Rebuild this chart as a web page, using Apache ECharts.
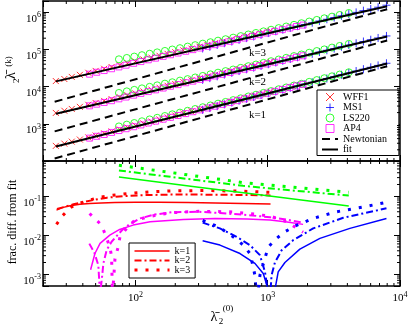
<!DOCTYPE html>
<html>
<head>
<meta charset="utf-8">
<script src="https://cdn.jsdelivr.net/npm/echarts@6/dist/echarts.min.js"></script>
<style>
html, body { margin: 0; padding: 0; background: #fff; }
#chart { width: 409px; height: 326px; }
</style>
</head>
<body>
<div id="chart"></div>
<script>
// lambda_2^(0) of the stellar models, one array per EOS
const xWFF1 = [25, 29, 33, 38, 44, 50, 58, 66, 76, 87, 100, 115, 132, 152, 175, 200, 230, 265, 305, 350, 400, 460, 530, 610, 700, 800, 920, 1050];
const xAP4 = [45, 51, 58, 66, 75, 85, 97, 110, 125, 142, 162, 184, 210, 240, 272, 310, 353, 400, 455, 520, 590, 670, 765, 870, 990, 1130, 1290, 1470, 1650, 1850];
const xLS220 = [75, 86, 98, 112, 128, 146, 167, 190, 217, 248, 283, 323, 369, 421, 480, 548, 625, 714, 815, 930, 1060, 1210, 1380, 1580, 1800, 2060, 2350, 2680, 3060, 3500, 4100];
const xMS1 = [322, 365, 415, 470, 535, 607, 690, 783, 890, 1010, 1150, 1300, 1480, 1680, 1910, 2170, 2460, 2800, 3180, 3610, 4100, 4660, 5290, 6010, 6830, 7900];

// lambda_2^(k) for k = 1, 2, 3
const wff1K1 = [255, 293, 331, 377, 431, 483, 552, 621, 706, 796, 902, 1020, 1150, 1310, 1480, 1670, 1890, 2140, 2430, 2740, 3090, 3490, 3960, 4490, 5080, 5720, 6470, 7260];
const wff1K2 = [1960, 2240, 2510, 2850, 3240, 3630, 4120, 4610, 5210, 5850, 6580, 7400, 8300, 9330, 10500, 11700, 13200, 14800, 16600, 18700, 20800, 23400, 26200, 29400, 33000, 36900, 41300, 46100];
const wff1K3 = [14100, 16000, 18200, 20700, 23500, 26400, 30100, 33600, 37800, 42400, 47500, 53600, 60000, 67300, 75700, 84100, 94200, 105000, 118000, 132000, 147000, 164000, 184000, 206000, 230000, 255000, 285000, 316000];

const ap4K1 = [412, 461, 516, 586, 659, 738, 834, 933, 1050, 1180, 1330, 1490, 1670, 1880, 2110, 2370, 2660, 2970, 3330, 3750, 4200, 4700, 5280, 5920, 6640, 7460, 8400, 9400, 10400, 11500];
const ap4K2 = [3040, 3370, 3750, 4180, 4690, 5240, 5890, 6560, 7350, 8170, 9140, 10200, 11300, 12700, 14000, 15600, 17400, 19300, 21400, 23900, 26600, 29400, 32800, 36600, 40600, 45200, 50400, 56000, 61400, 67300];
const ap4K3 = [21600, 24300, 27000, 30200, 33800, 37700, 42300, 47100, 52500, 58200, 64900, 71800, 79800, 88900, 98600, 109000, 121000, 134000, 148000, 165000, 183000, 202000, 225000, 249000, 275000, 306000, 340000, 376000, 412000, 451000];

const ls220K1 = [851, 951, 1050, 1170, 1310, 1450, 1620, 1800, 2000, 2240, 2500, 2790, 3110, 3480, 3870, 4340, 4840, 5430, 6050, 6780, 7570, 8490, 9480, 10700, 11900, 13400, 15000, 16800, 18900, 21100, 24300];
const ls220K2 = [6760, 7450, 8170, 8970, 9860, 10800, 12000, 13100, 14500, 15900, 17600, 19400, 21400, 23700, 26100, 28800, 31900, 35400, 39300, 43500, 48200, 53500, 59300, 66100, 73100, 81500, 90400, 100000, 112000, 124000, 141000];
const ls220K3 = [54200, 58900, 64100, 70000, 76400, 83200, 91000, 99300, 108000, 119000, 130000, 143000, 156000, 172000, 188000, 207000, 228000, 252000, 277000, 306000, 338000, 374000, 413000, 458000, 506000, 561000, 621000, 686000, 760000, 843000, 953000];

const ms1K1 = [2370, 2650, 2970, 3330, 3730, 4190, 4700, 5260, 5890, 6590, 7410, 8260, 9290, 10400, 11700, 13100, 14700, 16500, 18500, 20800, 23300, 26200, 29400, 33000, 37100, 42400];
const ms1K2 = [15200, 16900, 18900, 21100, 23500, 26200, 29200, 32400, 36000, 40000, 44600, 49400, 55100, 61400, 68400, 76000, 84700, 94600, 105000, 118000, 131000, 146000, 163000, 182000, 203000, 230000];
const ms1K3 = [106000, 118000, 132000, 147000, 163000, 181000, 201000, 223000, 247000, 275000, 307000, 340000, 378000, 421000, 469000, 521000, 579000, 646000, 718000, 800000, 887000, 989000, 1100000, 1220000, 1360000, 1540000];

// fit and Newtonian lines (end points)
const fitX = [25, 8000];
const fitK1 = [244, 41700];
const fitK2 = [1870, 222000];
const fitK3 = [13800, 1450000];
const newtX = [24.5, 8000];
const newtK1 = [117, 35300];
const newtK2 = [625, 173000];
const newtK3 = [3910, 1205000];

// fractional difference from fit, [lambda_2^(0), frac. diff.]
const fdWFF1K1 = [[25.3, 0.044], [28, 0.051], [32, 0.057], [38, 0.062], [45, 0.065], [55, 0.067], [70, 0.069], [100, 0.070], [150, 0.070], [250, 0.069], [400, 0.067], [650, 0.065], [1050, 0.063]];
const fdWFF1K2 = [[25.5, 0.047], [30, 0.055], [34, 0.062], [40, 0.070], [48, 0.080], [61, 0.092], [80, 0.100], [108, 0.106], [180, 0.110], [330, 0.110], [600, 0.108], [1050, 0.105]];
const fdWFF1K3 = [[25.3, 0.019], [28.2, 0.032], [32.4, 0.052], [38, 0.066], [45, 0.080], [54, 0.094], [66, 0.105], [90, 0.118], [130, 0.130], [200, 0.138], [350, 0.140], [600, 0.135], [1050, 0.126]];

const fdAP4K1 = [[45.8, 0.0013], [49.4, 0.0034], [54, 0.0062], [64, 0.0101], [76, 0.0141], [96, 0.0182], [129, 0.0222], [230, 0.0255], [400, 0.027], [700, 0.026], [1040, 0.0245], [1400, 0.022], [1850, 0.019]];
const fdAP4K2 = [[44.8, 0.0061], [49, 0.0035], [52.4, 0.0017], [54, 0.0003], [56, 0.0009], [57.2, 0.0019], [60.6, 0.0042], [66, 0.0068], [72, 0.0095], [80, 0.014], [90, 0.019], [108, 0.027], [140, 0.034], [190, 0.039], [300, 0.040], [435, 0.037], [700, 0.033], [1040, 0.029], [1400, 0.025], [1850, 0.021]];
const fdAP4K3 = [[45, 0.036], [47.5, 0.030], [51, 0.024], [55.6, 0.018], [59.9, 0.0092], [64.1, 0.005], [66, 0.0028], [67, 0.0003], [68.5, 0.0008], [70, 0.0025], [74, 0.005], [76.4, 0.0092], [85.8, 0.015], [99, 0.0245], [144, 0.033], [190, 0.038], [300, 0.041], [500, 0.040], [800, 0.035], [1070, 0.030], [1400, 0.022], [1750, 0.0135], [1850, 0.012]];

const fdLS220K1 = [[75, 0.31], [300, 0.171], [1000, 0.103], [4100, 0.056]];
const fdLS220K2 = [[75, 0.457], [150, 0.342], [300, 0.256], [650, 0.185], [1200, 0.152], [2200, 0.126], [4100, 0.104]];
const fdLS220K3 = [[75, 0.62], [150, 0.447], [300, 0.323], [650, 0.224], [1200, 0.185], [2200, 0.153], [4100, 0.126]];

const fdMS1K1 = [[322, 0.0072], [435, 0.0056], [617, 0.0034], [800, 0.0019], [925, 0.00104], [1009, 0.0004], [1060, 0.0001], [1090, 0.0001], [1133, 0.0004], [1200, 0.00115], [1349, 0.002], [1750, 0.0044], [2480, 0.0083], [4180, 0.015], [7900, 0.027]];
const fdMS1K2 = [[322, 0.021], [435, 0.015], [582, 0.0091], [733, 0.0056], [873, 0.0031], [953, 0.00115], [1000, 0.0004], [1020, 0.0001], [1045, 0.0003], [1069, 0.00094], [1133, 0.002], [1273, 0.0041], [1560, 0.0075], [2206, 0.015], [3724, 0.028], [7900, 0.049]];
const fdMS1K3 = [[322, 0.024], [423, 0.0165], [548, 0.0091], [653, 0.0056], [733, 0.0034], [769, 0.0018], [800, 0.00094], [828, 0.0002], [850, 0.0004], [873, 0.00094], [1009, 0.005], [1167, 0.0083], [1349, 0.0123], [1652, 0.018], [2206, 0.027], [3316, 0.040], [5594, 0.055], [7900, 0.070]];

const SERIF = '"Liberation Serif", "Times New Roman", serif';
const RED = '#ff0000', BLUE = '#0000ff', GREEN = '#00ff00', MAGENTA = '#ff00ff';

// minor tick positions (2..9 x 10^n) inside each axis range
function minorTicks(decades, lo, hi) {
  const out = [];
  decades.forEach(d => {
    for (let m = 2; m <= 9; m++) {
      const v = m * d;
      if (v > lo * 1.0001 && v < hi * 0.9999) out.push(v);
    }
  });
  return out;
}
const xMinor = minorTicks([10, 100, 1000], 20, 1e4);
const yTopMinor = minorTicks([100, 1e3, 1e4, 1e5, 1e6], 100, 2e6);
const yBotMinor = minorTicks([1e-4, 1e-3, 1e-2, 0.1], 5e-4, 0.8);

function powLabel(v) {
  const l = Math.log10(v);
  const e = Math.round(l);
  if (Math.abs(l - e) > 1e-6) return '';
  return '{b|10}{s|' + e + '}';
}
const richTick = {
  b: { fontFamily: SERIF, fontSize: 11, color: '#000', lineHeight: 12, padding: [7, 0, 0, 0], verticalAlign: 'top' },
  s: { fontFamily: SERIF, fontSize: 8, color: '#000', lineHeight: 8, padding: [5, 0, 0, 0], verticalAlign: 'top' }
};

const frameLine = { color: '#000', width: 1.5 };
function axis(grid, pos, min, max, label) {
  return {
    type: 'log', gridIndex: grid, position: pos, min: min, max: max,
    axisLine: { show: true, onZero: false, lineStyle: frameLine },
    axisTick: { show: true, inside: true, length: 6, lineStyle: { color: '#000', width: 1 } },
    splitLine: { show: false },
    minorTick: { show: false },
    axisLabel: label ? Object.assign({ show: true, rich: richTick }, label) : { show: false }
  };
}

const xAxis = [
  axis(0, 'bottom', 20, 1e4, null),
  axis(0, 'top', 20, 1e4, null),
  axis(1, 'bottom', 20, 1e4, { formatter: powLabel, margin: 0 }),
  axis(1, 'top', 20, 1e4, null)
];
const yAxis = [
  axis(0, 'left', 100, 2e6, { formatter: v => (v < 150 ? '' : powLabel(v)), margin: 2 }),
  axis(0, 'right', 100, 2e6, null),
  axis(1, 'left', 5e-4, 0.8, { formatter: powLabel, margin: 2 }),
  axis(1, 'right', 5e-4, 0.8, null)
];

function minorSeries(grid, dir, values, other) {
  return {
    type: 'custom', xAxisIndex: grid * 2, yAxisIndex: grid * 2, silent: true, z: 10, clip: false,
    data: values.map(v => (dir === 'x' ? [v, other] : [other, v])),
    renderItem: function (params, api) {
      const cs = params.coordSys;
      const p = api.coord([api.value(0), api.value(1)]);
      const st = { stroke: '#000', lineWidth: 1 };
      if (dir === 'x') {
        return { type: 'group', children: [
          { type: 'line', shape: { x1: p[0], y1: cs.y + cs.height, x2: p[0], y2: cs.y + cs.height - 3 }, style: st },
          { type: 'line', shape: { x1: p[0], y1: cs.y, x2: p[0], y2: cs.y + 3 }, style: st }
        ] };
      }
      return { type: 'group', children: [
        { type: 'line', shape: { x1: cs.x, y1: p[1], x2: cs.x + 3, y2: p[1] }, style: st },
        { type: 'line', shape: { x1: cs.x + cs.width, y1: p[1], x2: cs.x + cs.width - 3, y2: p[1] }, style: st }
      ] };
    }
  };
}

const markers = {
  WFF1: { symbol: 'path://M0,0L10,10M10,0L0,10', size: 6, color: RED },
  MS1: { symbol: 'path://M5,0L5,10M0,5L10,5', size: 8, color: BLUE },
  LS220: { symbol: 'circle', size: 7, color: GREEN },
  AP4: { symbol: 'path://M0,0L10,0L10,10L0,10Z', size: 6, color: MAGENTA }
};
function scatter(name, xs, ys) {
  const m = markers[name];
  return {
    type: 'scatter', name: name, xAxisIndex: 0, yAxisIndex: 0, silent: true, z: 2,
    symbol: m.symbol, symbolSize: m.size, symbolKeepAspect: true,
    itemStyle: { color: 'transparent', borderColor: m.color, borderWidth: 1 },
    data: xs.map((x, i) => [x, ys[i]])
  };
}
// line series: item colour kept transparent so the legend shows no marker
const noMark = { color: 'transparent', borderColor: 'transparent', borderWidth: 0 };
function topLine(name, xs, ys, dashed) {
  return {
    type: 'line', name: name, xAxisIndex: 0, yAxisIndex: 0, silent: true, z: 4,
    symbol: 'none', showSymbol: false,
    lineStyle: { color: '#000', width: 2, type: dashed ? [8, 5] : 'solid' },
    itemStyle: noMark,
    data: xs.map((x, i) => [x, ys[i]])
  };
}
const kStyle = {
  'k=1': { width: 1.5, type: 'solid' },
  'k=2': { width: 2, type: [7, 3, 2, 3] },
  'k=3': { width: 3, type: [3, 8], cap: 'butt' }
};
function fdLine(name, data, color) {
  return {
    type: 'line', name: name, xAxisIndex: 2, yAxisIndex: 2, silent: true, z: 3,
    symbol: 'none', showSymbol: false, clip: true,
    lineStyle: Object.assign({ color: color }, kStyle[name]),
    itemStyle: noMark,
    data: data
  };
}

const series = [
  scatter('WFF1', xWFF1, wff1K1), scatter('WFF1', xWFF1, wff1K2), scatter('WFF1', xWFF1, wff1K3),
  scatter('MS1', xMS1, ms1K1), scatter('MS1', xMS1, ms1K2), scatter('MS1', xMS1, ms1K3),
  scatter('LS220', xLS220, ls220K1), scatter('LS220', xLS220, ls220K2), scatter('LS220', xLS220, ls220K3),
  scatter('AP4', xAP4, ap4K1), scatter('AP4', xAP4, ap4K2), scatter('AP4', xAP4, ap4K3),
  topLine('Newtonian', newtX, newtK1, true), topLine('Newtonian', newtX, newtK2, true), topLine('Newtonian', newtX, newtK3, true),
  topLine('fit', fitX, fitK1, false), topLine('fit', fitX, fitK2, false), topLine('fit', fitX, fitK3, false),
  fdLine('k=1', fdWFF1K1, RED), fdLine('k=2', fdWFF1K2, RED), fdLine('k=3', fdWFF1K3, RED),
  fdLine('k=1', fdLS220K1, GREEN), fdLine('k=2', fdLS220K2, GREEN), fdLine('k=3', fdLS220K3, GREEN),
  fdLine('k=1', fdAP4K1, MAGENTA), fdLine('k=2', fdAP4K2, MAGENTA), fdLine('k=3', fdAP4K3, MAGENTA),
  fdLine('k=1', fdMS1K1, BLUE), fdLine('k=2', fdMS1K2, BLUE), fdLine('k=3', fdMS1K3, BLUE),
  minorSeries(0, 'x', xMinor, 1000), minorSeries(0, 'y', yTopMinor, 100),
  minorSeries(1, 'x', xMinor, 0.01), minorSeries(1, 'y', yBotMinor, 100)
];

function txt(text, x, y, size, rot) {
  return {
    type: 'text', x: x, y: y, rotation: rot || 0, silent: true,
    style: { text: text, fontFamily: SERIF, fontSize: size, fill: '#000', align: 'center', verticalAlign: 'middle' }
  };
}

const chart = echarts.init(document.getElementById('chart'), null, { renderer: 'canvas' });
chart.setOption({
  animation: false,
  backgroundColor: '#fff',
  grid: [
    { left: 43, top: 1, width: 357, height: 160, containLabel: false, outerBoundsMode: 'none' },
    { left: 43, top: 161, width: 357, height: 125, containLabel: false, outerBoundsMode: 'none' }
  ],
  xAxis: xAxis,
  yAxis: yAxis,
  legend: [
    {
      data: ['WFF1', 'MS1', 'LS220', 'AP4', 'Newtonian', 'fit'],
      orient: 'vertical', left: 317, top: 90, itemWidth: 16, itemHeight: 8, itemGap: 0.5,
      padding: [2, 12, 1, 4], borderColor: '#000', borderWidth: 1, backgroundColor: '#fff',
      selectedMode: false, symbolKeepAspect: true, itemStyle: { borderWidth: 1 }, lineStyle: { width: 'inherit' },
      textStyle: { fontFamily: SERIF, fontSize: 10, color: '#000' }
    },
    {
      data: ['k=1', 'k=2', 'k=3'],
      orient: 'vertical', left: 129, top: 243, itemWidth: 35, itemHeight: 6, itemGap: -0.5,
      padding: [3, 5, 3, 4], borderColor: '#000', borderWidth: 1, backgroundColor: '#fff',
      selectedMode: false, lineStyle: { width: 'inherit' },
      textStyle: { fontFamily: SERIF, fontSize: 10, color: '#000' }
    }
  ],
  graphic: [
    txt('k=3', 257.5, 53.5, 11), txt('k=2', 257.5, 82, 11), txt('k=1', 257.5, 115.5, 11),
    txt('\u03bb\u0304', 214, 317, 14), txt('2', 221, 321.5, 9), txt('(0)', 228, 309, 9),
    txt('\u03bb\u0304', 11, 75.5, 14, Math.PI / 2), txt('2', 16.7, 80.7, 9, Math.PI / 2), txt('(k)', 8.5, 61.5, 9, Math.PI / 2),
    txt('frac. diff. from fit', 12.5, 222, 12, Math.PI / 2)
  ],
  series: series
});
</script>
</body>
</html>
